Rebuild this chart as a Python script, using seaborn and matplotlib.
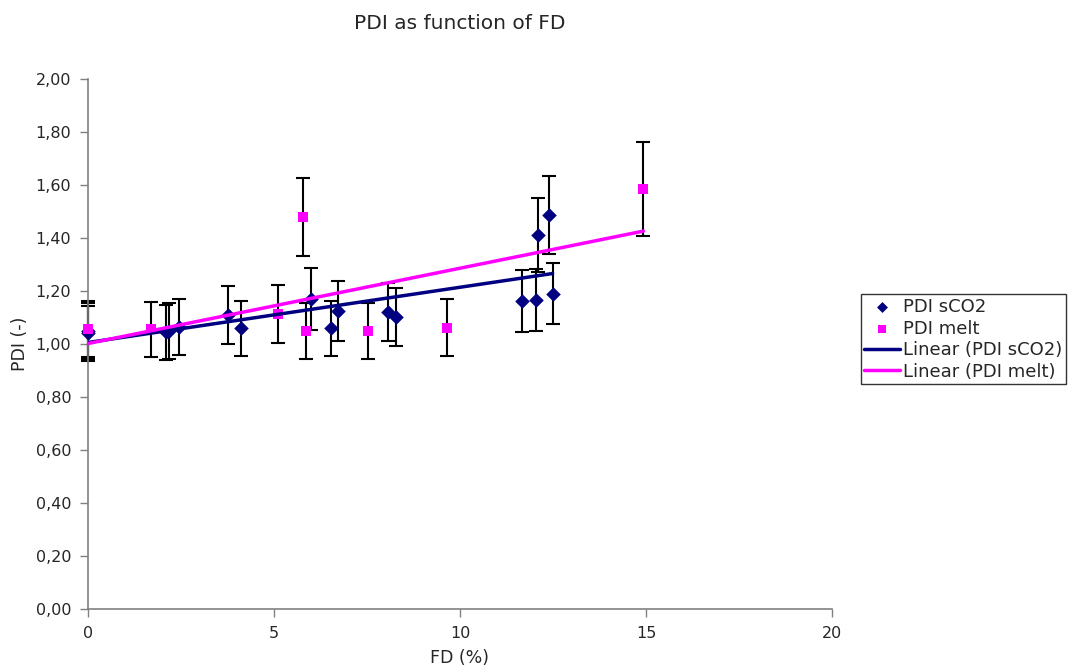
import numpy as np
import pandas as pd
import seaborn as sns
import matplotlib
matplotlib.use("Agg")
import matplotlib.pyplot as plt
from matplotlib.ticker import FuncFormatter

# datos
fd_sco2 = [0, 0, 2.11, 2.19, 2.45, 3.77, 4.11, 5.99, 6.52, 6.72, 8.06, 8.29,
           11.68, 12.03, 12.10, 12.38, 12.49]
pdi_sco2 = [1.04, 1.05, 1.044, 1.05, 1.065, 1.109, 1.059, 1.169, 1.059, 1.125,
            1.12, 1.103, 1.162, 1.167, 1.41, 1.486, 1.189]
err_sco2 = [0.105, 0.105, 0.105, 0.105, 0.106, 0.11, 0.105, 0.116, 0.105, 0.112,
            0.11, 0.11, 0.116, 0.117, 0.14, 0.148, 0.115]

fd_melt = [0, 1.69, 5.12, 5.77, 5.86, 7.54, 9.66, 14.93]
pdi_melt = [1.057, 1.055, 1.112, 1.48, 1.05, 1.05, 1.062, 1.585]
err_melt = [0.105, 0.105, 0.11, 0.148, 0.105, 0.105, 0.107, 0.177]

x_ticks = [0, 5, 10, 15, 20]
y_ticks = [0, 0.2, 0.4, 0.6, 0.8, 1.0, 1.2, 1.4, 1.6, 1.8, 2.0]

df_sco2 = pd.DataFrame({"FD": fd_sco2, "PDI": pdi_sco2, "err": err_sco2})
df_melt = pd.DataFrame({"FD": fd_melt, "PDI": pdi_melt, "err": err_melt})

sns.set_style("white")
plt.rcParams['font.family'] = ['DejaVu Sans']

navy = "#000080"
magenta = "#FF00FF"

fig = plt.figure(figsize=(10.73, 6.72), dpi=100)
ax = fig.add_axes([0.082, 0.0938, 0.6934, 0.7886])

# barras de error
for d in (df_sco2, df_melt):
    eb = ax.errorbar(d["FD"], d["PDI"], yerr=d["err"], fmt="none", ecolor="black",
                     elinewidth=1.5, capsize=5, capthick=1.5, zorder=2)
    for art in eb.lines[1] + eb.lines[2]:
        art.set_clip_on(False)

# puntos
sns.scatterplot(data=df_sco2, x="FD", y="PDI", marker="D", color=navy, s=55,
                edgecolor=navy, linewidth=0, ax=ax, zorder=3, label="PDI sCO2",
                clip_on=False)
sns.scatterplot(data=df_melt, x="FD", y="PDI", marker="s", color=magenta, s=60,
                edgecolor=magenta, linewidth=0, ax=ax, zorder=3, label="PDI melt",
                clip_on=False)

# lineas de tendencia
sns.regplot(data=df_sco2, x="FD", y="PDI", scatter=False, ci=None, truncate=True,
            color=navy, line_kws={"linewidth": 2.5, "zorder": 4},
            label="Linear (PDI sCO2)", ax=ax)
sns.regplot(data=df_melt, x="FD", y="PDI", scatter=False, ci=None, truncate=True,
            color=magenta, line_kws={"linewidth": 2.5, "zorder": 4},
            label="Linear (PDI melt)", ax=ax)

ax.set_xlim(0, 20)
ax.set_ylim(0, 2.0)
ax.set_xticks(x_ticks)
ax.set_yticks(y_ticks)
ax.yaxis.set_major_formatter(FuncFormatter(lambda v, p: f"{v:.2f}".replace(".", ",")))
ax.tick_params(axis="both", direction="out", length=6, width=1, color="#808080",
               labelsize=11.5, pad=6, left=True, bottom=True)
for s in ("top", "right"):
    ax.spines[s].set_visible(False)
for s in ("left", "bottom"):
    ax.spines[s].set_color("#808080")
    ax.spines[s].set_linewidth(1.2)

ax.set_title("PDI as function of FD", fontsize=14.5, pad=36)
ax.set_xlabel("FD (%)", fontsize=12.5, labelpad=6)
ax.set_ylabel("PDI (-)", fontsize=12.5, labelpad=5)

handles, labels = ax.get_legend_handles_labels()
if ax.legend_:
    ax.legend_.remove()
leg = fig.legend(handles, labels, loc="upper left", bbox_to_anchor=(0.802, 0.562),
                 frameon=True, fancybox=False, edgecolor="black", fontsize=13,
                 borderpad=0.2, labelspacing=0.2, handlelength=2.0, handletextpad=0.15,
                 borderaxespad=0, markerscale=0.75)
leg.get_frame().set_linewidth(1)

plt.savefig("out.png", dpi=100)
